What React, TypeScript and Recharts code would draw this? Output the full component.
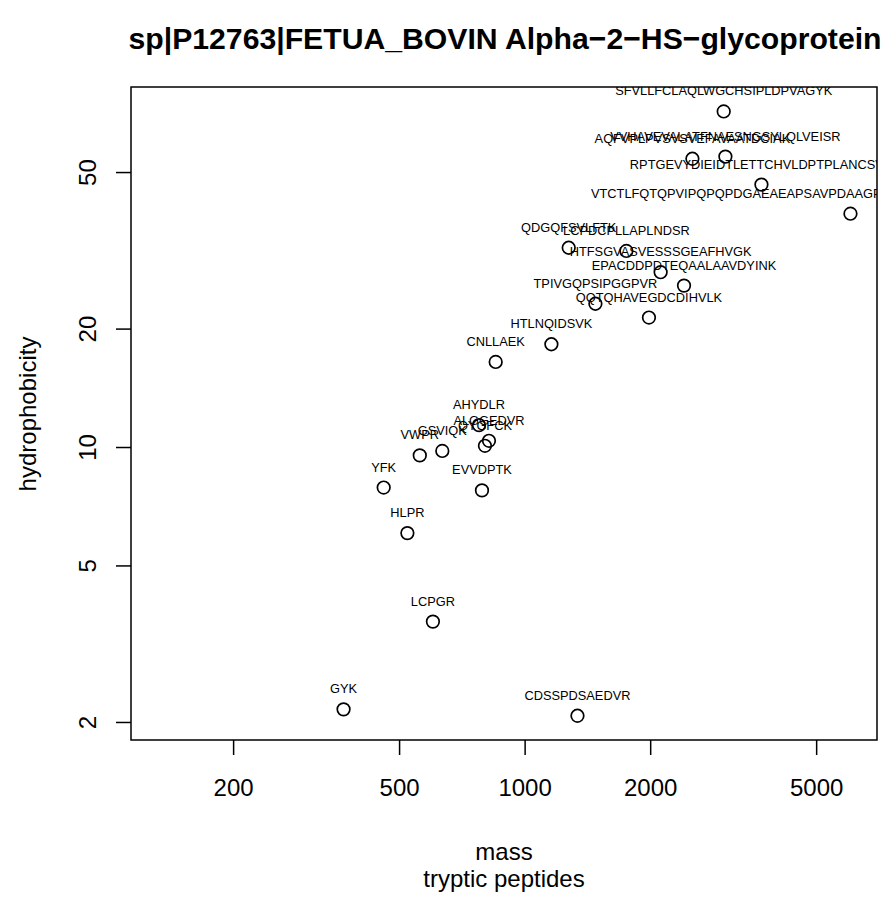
import { ScatterChart, Scatter, XAxis, YAxis, ReferenceArea } from 'recharts'

const peptides = [
  'SFVLLFCLAQLWGCHSIPLDPVAGYK',
  'AQFVPLPVSVSVEFAVAATDCIAK',
  'VVHAVEVALATFNAESNGSYLQLVEISR',
  'RPTGEVYDIEIDTLETTCHVLDPTPLANCSVR',
  'VTCTLFQTQPVIPQPQPDGAEAEAPSAVPDAAGPTPSAAGPPVASVVVGPSVVAVPLPLHR',
  'QDGQFSVLFTK',
  'LCPDCPLLAPLNDSR',
  'HTFSGVASVESSSGEAFHVGK',
  'EPACDDPDTEQAALAAVDYINK',
  'TPIVGQPSIPGGPVR',
  'QQTQHAVEGDCDIHVLK',
  'HTLNQIDSVK',
  'CNLLAEK',
  'AHYDLR',
  'ALGGEDVR',
  'QYGFCK',
  'GSVIQK',
  'VWPR',
  'YFK',
  'EVVDPTK',
  'HLPR',
  'LCPGR',
  'GYK',
  'CDSSPDSAEDVR',
]
const masses = [2993, 2518, 3021, 3686, 6026, 1272, 1749, 2113, 2404, 1474, 1981, 1156, 850, 775, 819, 801, 633, 559, 458, 788, 522, 601, 367, 1335]
const hydrophobicity = [71.5, 54.2, 54.9, 46.6, 39.3, 32.2, 31.6, 27.9, 25.8, 23.2, 21.4, 18.3, 16.5, 11.4, 10.4, 10.1, 9.8, 9.55, 7.91, 7.78, 6.06, 3.61, 2.16, 2.08]

const xTicks = [200, 500, 1000, 2000, 5000]
const yTicks = [2, 5, 10, 20, 50]
const xDomain = [113.5, 6977]
const yDomain = [1.805, 82.5]

const data = peptides.map((peptide, i) => ({ peptide, mass: masses[i], hydro: hydrophobicity[i] }))

const FONT = '"Liberation Sans", Arial, Helvetica, sans-serif'

// open circle with the peptide name centred above it (clipped to the plot box with the series)
const PeptidePoint = (props: any) => {
  const { cx, cy, payload } = props
  return (
    <g>
      <circle cx={cx} cy={cy} r={6.3} fill="none" stroke="#000" strokeWidth={1.7} />
      <text x={cx} y={cy - 16} textAnchor="middle" fontSize={12.8} fontFamily={FONT} fill="#000">
        {payload.peptide}
      </text>
    </g>
  )
}

const YTick = (props: any) => {
  const { x, y, payload } = props
  return (
    <text x={x - 20} y={y} transform={`rotate(-90 ${x - 20} ${y})`} textAnchor="middle"
      fontSize={24} fontFamily={FONT} fill="#000">
      {payload.value}
    </text>
  )
}

export default function App() {
  return (
    <div style={{ position: 'absolute', left: 0, top: 0, width: 884, height: 897, background: '#fff' }}>
      <ScatterChart width={884} height={897} margin={{ top: 87, right: 7, bottom: 97, left: 71 }}>
        <XAxis type="number" dataKey="mass" scale="log" domain={xDomain} ticks={xTicks} allowDataOverflow
          interval={0} axisLine={false} tickSize={15} tickMargin={24} height={60}
          tickLine={{ stroke: '#000', strokeWidth: 1.5 }}
          tick={{ fontSize: 24, fill: '#000', fontFamily: FONT }} />
        <YAxis type="number" dataKey="hydro" scale="log" domain={yDomain} ticks={yTicks} allowDataOverflow
          interval={0} axisLine={false} tickSize={15} tickMargin={0} width={60}
          tickLine={{ stroke: '#000', strokeWidth: 1.5 }} tick={<YTick />} />
        <ReferenceArea x1={xDomain[0]} x2={xDomain[1]} y1={yDomain[0]} y2={yDomain[1]}
          fill="none" fillOpacity={0} stroke="#000" strokeWidth={1.5} ifOverflow="visible" />
        <Scatter data={data} shape={<PeptidePoint />} isAnimationActive={false} />
      </ScatterChart>
      <svg width={884} height={897} style={{ position: 'absolute', left: 0, top: 0, pointerEvents: 'none' }}>
        <text x={505} y={49} textAnchor="middle" fontSize={30.2} fontWeight="bold" fontFamily={FONT} fill="#000">
          sp|P12763|FETUA_BOVIN Alpha−2−HS−glycoprotein
        </text>
        <text x={504} y={860} textAnchor="middle" fontSize={24} fontFamily={FONT} fill="#000">mass</text>
        <text x={504} y={887} textAnchor="middle" fontSize={24} fontFamily={FONT} fill="#000">tryptic peptides</text>
        <text x={36} y={414} transform="rotate(-90 36 414)" textAnchor="middle" fontSize={24} fontFamily={FONT} fill="#000">
          hydrophobicity
        </text>
      </svg>
    </div>
  )
}
